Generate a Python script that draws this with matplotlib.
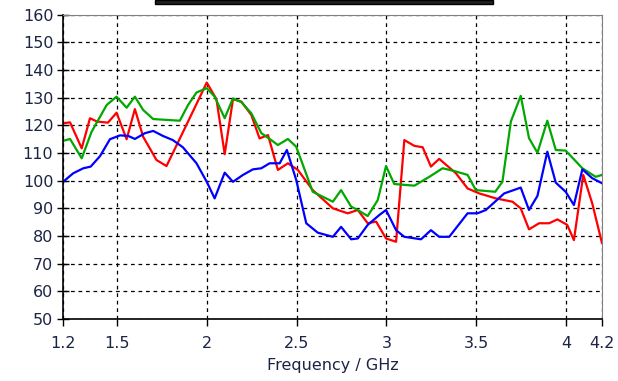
import numpy as np
import matplotlib.pyplot as plt
from matplotlib.patches import Rectangle

# frequency (GHz) and level values
f_red = [1.2, 1.239, 1.304, 1.35, 1.389, 1.45, 1.498, 1.554, 1.6, 1.646, 1.72, 1.776,
         1.896, 2.0, 2.054, 2.1, 2.146, 2.193, 2.248, 2.294, 2.341, 2.396, 2.452, 2.507,
         2.59, 2.702, 2.785, 2.841, 2.896, 2.943, 2.998, 3.054, 3.1, 3.156, 3.202, 3.248,
         3.294, 3.387, 3.452, 3.517, 3.609, 3.702, 3.748, 3.794, 3.85, 3.906, 3.952, 4.007,
         4.044, 4.096, 4.146, 4.2]
v_red = [120.8, 121.1, 111.7, 122.6, 121.4, 121.0, 124.6, 115.0, 125.9, 115.9, 107.5, 105.3,
         121.4, 135.5, 129.5, 109.6, 129.5, 128.6, 123.8, 115.3, 116.5, 103.9, 106.3, 103.9,
         96.6, 90.0, 88.2, 89.4, 84.6, 85.2, 79.1, 77.9, 114.7, 112.6, 112.1, 105.1,
         107.9, 102.7, 97.2, 95.4, 93.6, 92.4, 90.0, 82.4, 84.6, 84.6, 86.0, 84.0,
         78.5, 102.1, 91.8, 77.5]

f_green = [1.2, 1.239, 1.304, 1.359, 1.443, 1.498, 1.554, 1.6, 1.646, 1.702, 1.776, 1.85,
           1.896, 1.943, 2.0, 2.044, 2.1, 2.146, 2.193, 2.248, 2.304, 2.359, 2.396, 2.452,
           2.498, 2.59, 2.702, 2.748, 2.804, 2.841, 2.896, 2.952, 2.998, 3.044, 3.156, 3.239,
           3.313, 3.378, 3.452, 3.498, 3.606, 3.646, 3.693, 3.748, 3.794, 3.841, 3.896, 3.943,
           3.998, 4.091, 4.165, 4.2]
v_green = [114.4, 115.1, 108.1, 117.7, 127.4, 130.4, 126.4, 130.4, 125.6, 122.3, 122.0, 121.7,
           127.4, 131.9, 133.5, 130.4, 122.6, 129.8, 128.4, 124.4, 117.2, 114.7, 112.9, 115.1,
           112.3, 96.0, 92.4, 96.6, 90.6, 89.4, 87.2, 93.0, 105.3, 98.8, 98.2, 101.4,
           104.5, 103.5, 102.1, 96.6, 96.0, 99.6, 121.4, 130.7, 115.4, 110.1, 121.7, 111.1,
           110.9, 104.5, 101.4, 102.1]

f_blue = [1.2, 1.257, 1.313, 1.354, 1.406, 1.461, 1.517, 1.563, 1.6, 1.656, 1.702, 1.756,
          1.811, 1.867, 1.943, 2.0, 2.044, 2.1, 2.146, 2.202, 2.257, 2.304, 2.35, 2.406,
          2.446, 2.498, 2.554, 2.618, 2.702, 2.748, 2.804, 2.841, 2.896, 2.961, 2.998, 3.054,
          3.1, 3.193, 3.248, 3.294, 3.35, 3.452, 3.507, 3.554, 3.656, 3.748, 3.794, 3.841,
          3.896, 3.943, 3.998, 4.044, 4.091, 4.146, 4.2]
v_blue = [99.6, 102.7, 104.5, 105.1, 108.9, 115.0, 116.4, 116.2, 115.1, 117.2, 118.0, 116.2,
          114.7, 112.1, 106.3, 99.6, 93.6, 102.9, 99.6, 102.1, 104.1, 104.5, 106.3, 106.3,
          111.1, 100.3, 84.6, 81.2, 79.7, 83.3, 78.8, 79.1, 84.0, 87.6, 89.4, 82.1,
          79.7, 78.8, 82.1, 79.7, 79.7, 88.2, 88.2, 89.4, 95.4, 97.5, 89.4, 94.5,
          110.5, 99.3, 96.0, 91.2, 104.1, 100.9, 99.1]

x_ticks = [1.2, 1.5, 2, 2.5, 3, 3.5, 4, 4.2]
x_labels = ['1.2', '1.5', '2', '2.5', '3', '3.5', '4', '4.2']
y_ticks = np.arange(50, 161, 10)

txt = '#1c2445'

fig = plt.figure(figsize=(6.18, 3.81), dpi=100)
ax = fig.add_axes([0.102, 0.163, 0.872, 0.798])

ax.plot(f_red, v_red, color='#ff0000', lw=1.6)
ax.plot(f_green, v_green, color='#00a800', lw=1.6)
ax.plot(f_blue, v_blue, color='#0000ff', lw=1.6)

ax.set_xlim(1.2, 4.2)
ax.set_ylim(50, 160)
ax.set_xticks(x_ticks)
ax.set_xticklabels(x_labels)
ax.set_yticks(y_ticks)

ax.grid(True, color='black', linestyle=(0, (3, 3)), linewidth=0.9)
ax.tick_params(axis='both', width=1, colors='black', labelsize=11.5, labelcolor=txt)
ax.tick_params(axis='x', direction='out', length=5, pad=7)
ax.tick_params(axis='y', direction='inout', length=8, pad=3)

for s in ['top', 'right']:
    ax.spines[s].set_color('#808080')
for s in ['left', 'bottom']:
    ax.spines[s].set_color('black')
    ax.spines[s].set_linewidth(1.2)

ax.set_xlabel('Frequency / GHz', fontsize=11.5, color=txt, labelpad=5)

# cut-off title box at the top
fig.patches.append(Rectangle((155 / 618, 1 - 3.5 / 381), 338 / 618, 3.5 / 381,
                             transform=fig.transFigure, facecolor='#202020',
                             edgecolor='black', lw=1))

plt.savefig('out.png', dpi=100)
plt.close()
